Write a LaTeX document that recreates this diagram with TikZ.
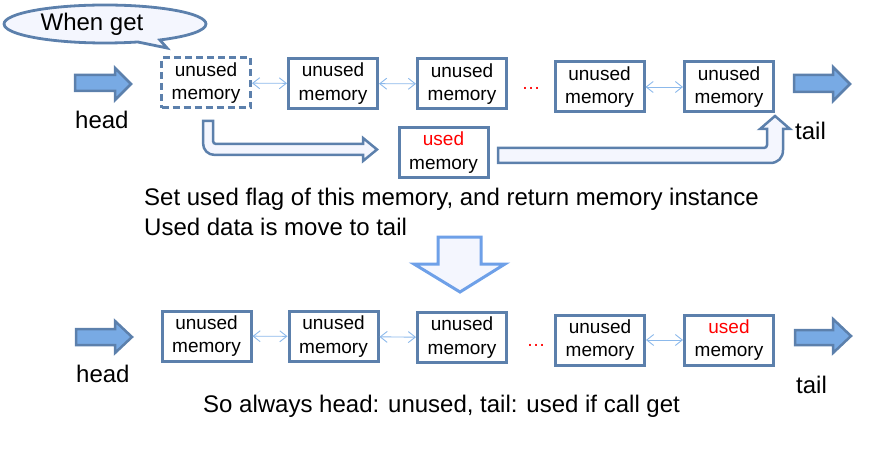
\documentclass[tikz,border=0pt]{standalone}
\usepackage{fontspec}
\setmainfont{Liberation Sans}
\usetikzlibrary{arrows.meta,shapes.callouts}
\definecolor{bord}{RGB}{92,128,172}
\definecolor{headfill}{RGB}{120,170,228}
\definecolor{linkc}{RGB}{140,185,235}
\definecolor{bigb}{RGB}{110,160,232}
\definecolor{pale}{RGB}{244,246,254}
\definecolor{usedred}{RGB}{255,0,0}
\tikzset{
  membox/.style={draw=bord, line width=3pt, fill=white, minimum width=89pt, minimum height=50pt,
    inner sep=0pt, align=center, font=\fontsize{19}{23.5}\selectfont},
  dashbox/.style={membox, dash pattern=on 7pt off 4pt},
  link/.style={draw=linkc, line width=0.9pt, {Straight Barb[length=7pt,width=11pt]}-{Straight Barb[length=7pt,width=11pt]}},
  blockarrow/.style={draw=bord, line width=2.5pt, fill=headfill, line join=miter},
  hollow/.style={draw=bord, line width=2.5pt, fill=pale, line join=miter},
  bigarrow/.style={draw=bigb, line width=3pt, fill=pale, line join=miter},
  lbl/.style={anchor=base west, inner sep=0pt, font=\fontsize{24}{28}\selectfont},
  dots/.style={anchor=base, inner sep=0pt, text=usedred, font=\fontsize{19}{22}\selectfont},
}
\begin{document}
\begin{tikzpicture}[x=1pt,y=-1pt]
\useasboundingbox (0,0) rectangle (883,465);

% callout
\node[ellipse callout, draw=bord, line width=2.8pt, fill=pale, minimum width=202pt, minimum height=38pt,
  inner sep=0pt, callout absolute pointer={(167,48)}, callout pointer arc=14,
  font=\fontsize{24}{27}\selectfont] (call) at (105,24) {When get\kern26pt};

% top row
\node[dashbox] (t1) at (206,83) {unused\\memory};
\node[membox] (t2) at (333,83.5) {unused\\memory};
\node[membox] (t3) at (462,84) {unused\\memory};
\node[membox] (t4) at (599.5,87) {unused\\memory};
\node[membox] (t5) at (729,87) {unused\\memory};
\node[dots] (td) at (531,90) {…};
\draw[link] (t1) -- (t2);
\draw[link] (t2) -- (t3);
\draw[link] (t4) -- (t5);

\node[membox] (used) at (443.5,152.5) {\textcolor{usedred}{used}\\memory};

% head/tail arrows top
\draw[blockarrow] (75,75) -- (115,75) -- (115,68) -- (131,84) -- (115,100) -- (115,91) -- (75,91) -- cycle;
\draw[blockarrow] (794,75) -- (833,75) -- (833,67) -- (850,84) -- (833,101) -- (833,92) -- (794,92) -- cycle;
\node[lbl] (headt) at (75,129) {head};
\node[lbl] (tailt) at (795,140) {tail};

% hollow arrows
\draw[hollow] (203,121) -- (203,143) .. controls (203,150) and (208,155) .. (215,155) -- (363,155) -- (363,161)
  -- (377,149.5) -- (363,138) -- (363,144) -- (216,144) .. controls (214.3,144) and (213,142.7) .. (213,141) -- (213,121) -- cycle;
\draw[hollow] (498,148) -- (764,148) .. controls (765.7,148) and (767,146.7) .. (767,145) -- (767,129) -- (760,129)
  -- (775,116) -- (790,129) -- (783,129) -- (783,150) .. controls (783,158) and (778,163) .. (770,163) -- (498,163) -- cycle;

% texts
\node[lbl] (txt1) at (144,206) {Set used flag of this memory, and return memory instance};
\node[lbl] (txt2) at (144,235) {Used data is move to tail};

% big arrow
\draw[bigarrow] (438,237) -- (481,237) -- (481,264) -- (505,264) -- (460,292) -- (414,264) -- (438,264) -- cycle;

% bottom row
\node[membox] (b1) at (206.5,336) {unused\\memory};
\node[membox] (b2) at (333.5,336.5) {unused\\memory};
\node[membox] (b3) at (462,337.5) {unused\\memory};
\node[membox] (b4) at (600,340) {unused\\memory};
\node[membox] (b5) at (729,340) {\textcolor{usedred}{used}\\memory};
\node[dots] (bd) at (536,346) {…};
\draw[link] (b1) -- (b2);
\draw[link] (b2) -- (b3);
\draw[link] (b4) -- (b5);

\draw[blockarrow] (76,329) -- (115,329) -- (115,321) -- (132,337) -- (115,353) -- (115,345) -- (76,345) -- cycle;
\draw[blockarrow] (795,330) -- (833,330) -- (833,319) -- (851,336) -- (833,353) -- (833,345) -- (795,345) -- cycle;
\node[lbl] (headb) at (76,382) {head};
\node[lbl] (tailb) at (796,393) {tail};

\node[lbl] (txt3) at (203,412) {So always head: unused, tail: used if call get};
\end{tikzpicture}
\end{document}
